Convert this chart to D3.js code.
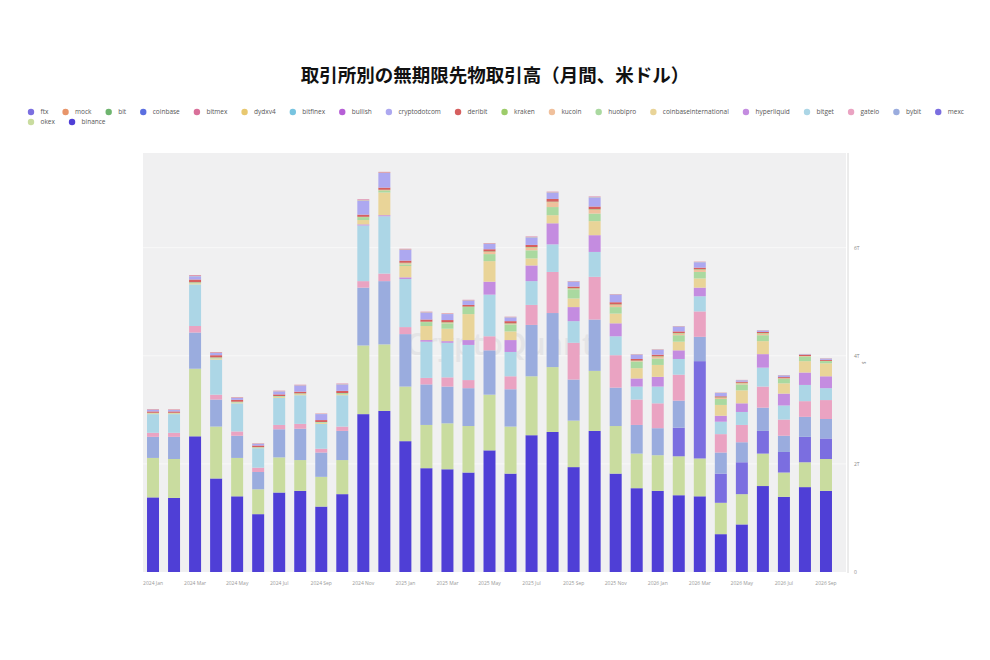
<!DOCTYPE html>
<html><head><meta charset="utf-8">
<script src="https://cdn.jsdelivr.net/npm/d3@7"></script>
<style>body{margin:0;background:#fff} svg{display:block}</style>
</head><body><svg id="c" width="990" height="660"></svg>
<script>
const title = "取引所別の無期限先物取引高（月間、米ドル）";
const months = ["2024 Jan","2024 Feb","2024 Mar","2024 Apr","2024 May","2024 Jun","2024 Jul","2024 Aug","2024 Sep","2024 Oct","2024 Nov","2024 Dec",
"2025 Jan","2025 Feb","2025 Mar","2025 Apr","2025 May","2025 Jun","2025 Jul","2025 Aug","2025 Sep","2025 Oct","2025 Nov","2025 Dec",
"2026 Jan","2026 Feb","2026 Mar","2026 Apr","2026 May","2026 Jun","2026 Jul","2026 Aug","2026 Sep"];
const tickLabels = ["2024 Jan","2024 Mar","2024 May","2024 Jul","2024 Sep","2024 Nov","2025 Jan","2025 Mar","2025 May","2025 Jul","2025 Sep","2025 Nov","2026 Jan","2026 Mar","2026 May","2026 Jul","2026 Sep"];
const yTicks = [0, 2, 4, 6];

// values in trillions USD
const binance = [1.38,1.37,2.51,1.73,1.40,1.07,1.47,1.50,1.21,1.44,2.92,2.98,2.42,1.92,1.90,1.84,2.25,1.82,2.53,2.59,1.94,2.61,1.82,1.55,1.50,1.42,1.40,0.70,0.88,1.59,1.39,1.57,1.50];
const okex = [0.73,0.72,1.25,0.96,0.71,0.46,0.65,0.57,0.55,0.63,1.27,1.23,1.01,0.80,0.85,0.86,1.03,0.87,1.09,1.20,0.86,1.11,0.88,0.64,0.66,0.72,0.70,0.58,0.56,0.60,0.45,0.46,0.59];
const mexc = [0,0,0,0,0,0,0,0,0,0,0,0,0,0,0,0,0,0,0,0,0,0,0,0,0,0.53,1.80,0.54,0.59,0.42,0.38,0.47,0.38];
const bybit = [0.39,0.41,0.67,0.50,0.41,0.32,0.52,0.58,0.45,0.54,1.07,1.17,0.97,0.75,0.68,0.70,0.82,0.69,0.95,1.00,0.76,0.95,0.71,0.53,0.50,0.50,0.45,0.39,0.37,0.43,0.30,0.37,0.36];
const gateio = [0.075,0.075,0.12,0.09,0.08,0.08,0.08,0.09,0.07,0.08,0.12,0.14,0.13,0.12,0.17,0.15,0.26,0.24,0.37,0.76,0.68,0.79,0.60,0.47,0.46,0.48,0.47,0.34,0.32,0.39,0.30,0.29,0.35];
const bitget = [0.345,0.345,0.77,0.65,0.52,0.36,0.50,0.53,0.46,0.58,1.03,1.06,0.89,0.67,0.64,0.65,0.77,0.45,0.44,0.51,0.40,0.46,0.35,0.24,0.31,0.29,0.28,0.23,0.24,0.35,0.26,0.30,0.22];
const hyperliquid = [0,0,0,0,0,0,0,0,0,0,0.02,0.02,0.03,0.03,0.03,0.09,0.24,0.22,0.29,0.39,0.26,0.31,0.24,0.15,0.18,0.16,0.16,0.11,0.16,0.25,0.22,0.23,0.22];
const coinbaseinternational = [0.015,0.015,0.02,0.02,0.015,0.01,0.02,0.02,0.02,0.02,0.08,0.42,0.21,0.26,0.23,0.48,0.38,0.16,0.13,0.15,0.16,0.26,0.18,0.19,0.22,0.16,0.17,0.20,0.24,0.24,0.19,0.21,0.24];
const huobipro = [0.01,0.01,0.02,0.02,0.015,0.01,0.015,0.015,0.015,0.02,0.05,0.03,0.03,0.07,0.10,0.13,0.13,0.13,0.15,0.15,0.17,0.14,0.12,0.12,0.12,0.12,0.12,0.11,0.11,0.11,0.08,0.08,0.04];
const kucoin = [0,0,0,0,0,0,0,0,0,0,0,0.01,0.02,0,0.01,0,0.04,0.01,0.05,0.09,0.01,0.07,0.04,0.01,0.03,0.03,0.04,0.02,0.02,0.03,0.01,0.01,0];
const kraken = [0,0,0,0,0,0,0,0,0,0,0.01,0.01,0.01,0.01,0.01,0.01,0.01,0.01,0.01,0.01,0.01,0.01,0.01,0.01,0.01,0.01,0.01,0.01,0.01,0.01,0.005,0.005,0.005];
const deribit = [0.025,0.025,0.05,0.04,0.035,0.03,0.03,0.03,0.035,0.04,0.04,0.04,0.04,0.04,0.04,0.03,0.04,0.04,0.04,0.05,0.03,0.05,0.04,0.03,0.03,0.03,0.03,0.02,0.02,0.02,0.02,0.02,0.02];
const cryptodotcom = [0.03,0.025,0.06,0.04,0.035,0.03,0.055,0.115,0.11,0.12,0.26,0.27,0.20,0.13,0.11,0.08,0.10,0.07,0.14,0.12,0.09,0.17,0.14,0.08,0.09,0.09,0.10,0.06,0.025,0.025,0.03,0.01,0.02];
const bullish = [0,0,0,0,0,0,0,0,0,0,0,0,0,0,0,0,0,0,0,0,0,0,0,0,0,0,0,0,0,0,0,0,0];
const bitfinex = [0.002,0.002,0.003,0.003,0.002,0.002,0.002,0.002,0.002,0.002,0.003,0.003,0.003,0.002,0.002,0.002,0.002,0.002,0.002,0.002,0.002,0.002,0.002,0.002,0.002,0.002,0.002,0.002,0.002,0.002,0.002,0.002,0.002];
const dydxv4 = [0.003,0.003,0.005,0.005,0.004,0.003,0.003,0.003,0.003,0.004,0.006,0.006,0.005,0.004,0.004,0.004,0.004,0.003,0.004,0.004,0.003,0.004,0.003,0.003,0.003,0.003,0.003,0.002,0.002,0.002,0.002,0.002,0.002];
const bitmex = [0.008,0.008,0.012,0.01,0.008,0.006,0.008,0.008,0.006,0.008,0.012,0.012,0.01,0.008,0.008,0.008,0.008,0.006,0.008,0.008,0.006,0.008,0.006,0.005,0.005,0.005,0.005,0.004,0.004,0.004,0.004,0.004,0.004];
const coinbase = [0,0,0,0,0,0,0,0,0,0,0,0,0,0,0,0,0,0,0,0,0,0,0,0,0,0,0,0,0,0,0,0,0];
const bit = [0,0,0,0,0,0,0,0,0,0,0,0,0,0,0,0,0,0,0,0,0,0,0,0,0,0,0,0,0,0,0,0,0];
const mock = [0,0,0,0,0,0,0,0,0,0,0,0,0,0,0,0,0,0,0,0,0,0,0,0,0,0,0,0,0,0,0,0,0];
const ftx = [0,0,0,0,0,0,0,0,0,0,0,0,0,0,0,0,0,0,0,0,0,0,0,0,0,0,0,0,0,0,0,0,0];

// legend order (top-left first); stacking is the reverse (binance at the bottom)
const exchanges = ["ftx","mock","bit","coinbase","bitmex","dydxv4","bitfinex","bullish","cryptodotcom","deribit","kraken","kucoin","huobipro","coinbaseinternational","hyperliquid","bitget","gateio","bybit","mexc","okex","binance"];
const colors = ["#7b6fe0","#e8956a","#6fb56f","#5b6fe0","#d9709a","#e8c870","#78c4e0","#b65fd6","#ada8f0","#d65f5f","#9dcc6a","#f0c09c","#aad9a0","#e9d498","#c48ce0","#acd6e6","#eaa3c2","#9aacde","#7b6ee0","#c9dc9f","#4f3fd6"];
const seriesData = {ftx,mock,bit,coinbase,bitmex,dydxv4,bitfinex,bullish,cryptodotcom,deribit,kraken,kucoin,huobipro,coinbaseinternational,hyperliquid,bitget,gateio,bybit,mexc,okex,binance};

const svg = d3.select("#c");
const plot = {left: 143, right: 846, top: 153, bottom: 572};
const latin = "'Open Sans','Noto Sans',sans-serif";

// title
svg.append("text").attr("x", 495).attr("y", 82).attr("text-anchor","middle")
  .attr("font-family","'Noto Sans CJK JP','Noto Sans',sans-serif").attr("font-weight",700)
  .attr("font-size",18.5).attr("fill","#111").text(title);

// legend
const legend = svg.append("g");
let lx = 31, ly = 112;
exchanges.forEach((name, i) => {
  if (i === 19) { lx = 31; ly = 122; }
  const g = legend.append("g");
  g.append("circle").attr("cx", lx).attr("cy", ly).attr("r", 3.2).attr("fill", colors[i]);
  const t = g.append("text").attr("x", lx + 9.5).attr("y", ly + 2.2)
    .attr("font-family", latin).attr("font-size", 6.5).attr("fill","#555").text(name);
  const w = t.node().getComputedTextLength();
  lx = lx + 9.5 + w + 17.15;
});

// scales
const x = d3.scaleBand().domain(months).range([142.5, 836.5]).paddingInner(0.43).paddingOuter(0.215);
const y = d3.scaleLinear().domain([0, 7.75]).range([plot.bottom, plot.top]);

// background
svg.append("rect").attr("x", plot.left).attr("y", plot.top)
  .attr("width", plot.right - plot.left).attr("height", plot.bottom - plot.top).attr("fill","#f0f0f1");

// gridlines
svg.append("g").selectAll("line").data(yTicks.filter(d => d > 0)).join("line")
  .attr("x1", plot.left).attr("x2", plot.right).attr("y1", d => y(d)).attr("y2", d => y(d))
  .attr("stroke","#f8f8f8").attr("stroke-width",1);

// watermark
svg.append("text").attr("x", 500).attr("y", 355).attr("text-anchor","middle")
  .attr("font-family", latin).attr("font-size", 30).attr("font-weight", 600)
  .attr("fill","#e4e4e6").text("CryptoQuant");

// stacked bars
const table = months.map((m, i) => {
  const row = {month: m};
  exchanges.forEach(e => row[e] = seriesData[e][i]);
  return row;
});
const stackKeys = exchanges.slice().reverse();
const stacked = d3.stack().keys(stackKeys)(table);
const colorOf = d3.scaleOrdinal().domain(exchanges).range(colors);

svg.append("g").selectAll("g").data(stacked).join("g")
  .attr("fill", d => colorOf(d.key))
  .selectAll("rect").data(d => d).join("rect")
  .attr("x", d => x(d.data.month)).attr("width", x.bandwidth())
  .attr("y", d => y(d[1])).attr("height", d => Math.max(0, y(d[0]) - y(d[1])));

// right axis line
svg.append("line").attr("x1", 848).attr("x2", 848).attr("y1", plot.top).attr("y2", plot.bottom + 1)
  .attr("stroke","#d8d8d8").attr("stroke-width",1);

// y axis (right)
const yAxis = d3.axisRight(y).tickValues(yTicks).tickSize(0).tickFormat(d => d === 0 ? "0" : d + "T");
const ya = svg.append("g").attr("transform", "translate(851,0)").call(yAxis);
ya.select(".domain").remove();
ya.selectAll("text").attr("font-family", latin).attr("font-size", 5).attr("fill","#888").attr("dx", 0);

// y axis title (tiny, rotated)
svg.append("text").attr("transform","translate(862,363) rotate(90)").attr("text-anchor","middle")
  .attr("font-family", latin).attr("font-size", 5).attr("fill","#888").text("$");

// x axis
const xAxis = d3.axisBottom(x).tickValues(tickLabels).tickSize(0);
const xa = svg.append("g").attr("transform", `translate(0,${plot.bottom + 6})`).call(xAxis);
xa.select(".domain").remove();
xa.selectAll("text").attr("font-family", latin).attr("font-size", 5).attr("fill","#999");
</script></body></html>
